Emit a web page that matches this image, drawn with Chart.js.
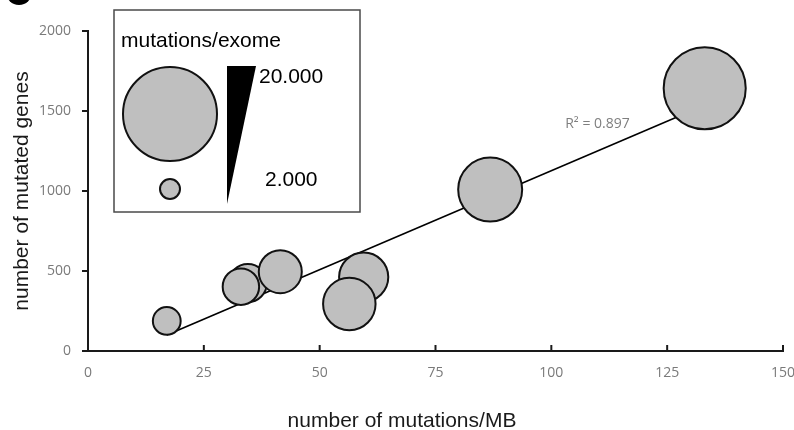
<!DOCTYPE html>
<html>
<head>
<meta charset="utf-8">
<script src="https://cdn.jsdelivr.net/npm/chart.js@4.4.0/dist/chart.umd.min.js"></script>
<style>
  html, body { margin: 0; padding: 0; background: #fff; }
  #wrap { position: relative; width: 794px; height: 430px; overflow: hidden; }
</style>
</head>
<body>
<div id="wrap"><canvas id="chart" width="794" height="430"></canvas></div>
<script>
// values
const mutationsPerMB    = [17.0, 34.5, 33.0, 41.5, 59.5, 56.4, 86.8, 133.1];
const mutatedGenes      = [188, 425, 402, 496, 462, 294, 1009, 1642];
const mutationsPerExome = [3900, 6400, 6000, 7600, 9100, 9900, 12700, 17100];

// trend line end points
const trendX = [17.0, 133.2];
const trendY = [100, 1537];
const rSquaredText = 'R\u00b2 = 0.897';

const xTickValues = [0, 25, 50, 75, 100, 125, 150];
const yTickValues = [0, 500, 1000, 1500, 2000];

const legendValues = [20000, 2000];
const legendLabels = ['20.000', '2.000'];

// bubble radius for a mutations/exome count (2.000 -> 10px, 20.000 -> 47px)
function bubbleRadius(v){
    return 10 + (v - 2000) * 37 / 18000;
}

const bubbles = mutationsPerMB.map(function(x, i){
    return {x: x, y: mutatedGenes[i], r: bubbleRadius(mutationsPerExome[i])};
});
const trend = trendX.map(function(x, i){ return {x: x, y: trendY[i]}; });

const fill = '#bfbfbf';
const axisColor = '#1a1a1a';
const tickFont = {family: '"Open Sans", sans-serif', size: 14};
const titleFont = '"Liberation Sans", Arial, sans-serif';

const extras = {
    id: 'extras',
    afterDraw(chart){
        const ctx = chart.ctx;
        const xs = chart.scales.x, ys = chart.scales.y;
        const bottom = chart.chartArea.bottom;
        ctx.save();

        // inward tick marks on the x axis
        ctx.strokeStyle = axisColor;
        ctx.lineWidth = 2;
        xTickValues.forEach(function(v){
            if(v === 0) return;
            const px = xs.getPixelForValue(v);
            ctx.beginPath();
            ctx.moveTo(px, bottom);
            ctx.lineTo(px, bottom - 6);
            ctx.stroke();
        });

        // R squared label
        ctx.fillStyle = '#7f7f7f';
        ctx.font = '14px "Open Sans", sans-serif';
        ctx.textAlign = 'left';
        ctx.textBaseline = 'alphabetic';
        ctx.fillText(rSquaredText, xs.getPixelForValue(103), ys.getPixelForValue(1394));

        // x axis title
        ctx.fillStyle = '#1a1a1a';
        ctx.font = '21px ' + titleFont;
        ctx.textAlign = 'center';
        ctx.fillText('number of mutations/MB', 402, 427);

        // panel mark in the corner
        ctx.fillStyle = '#000';
        ctx.beginPath();
        ctx.arc(19, -8, 13, 0, Math.PI * 2);
        ctx.fill();

        // size legend
        ctx.fillStyle = '#fff';
        ctx.fillRect(114, 10, 246, 202);
        ctx.strokeStyle = '#4a4a4a';
        ctx.lineWidth = 1.5;
        ctx.strokeRect(114, 10, 246, 202);

        ctx.fillStyle = '#000';
        ctx.font = '21px ' + titleFont;
        ctx.textAlign = 'left';
        ctx.fillText('mutations/exome', 121, 47);

        const circleY = [114, 189];
        legendValues.forEach(function(v, i){
            ctx.beginPath();
            ctx.arc(170, circleY[i], bubbleRadius(v), 0, Math.PI * 2);
            ctx.fillStyle = fill;
            ctx.fill();
            ctx.strokeStyle = '#111';
            ctx.lineWidth = 2;
            ctx.stroke();
        });

        ctx.fillStyle = '#000';
        ctx.beginPath();
        ctx.moveTo(227, 66);
        ctx.lineTo(256, 66);
        ctx.lineTo(227, 204);
        ctx.closePath();
        ctx.fill();

        ctx.fillText(legendLabels[0], 259, 83);
        ctx.fillText(legendLabels[1], 265, 186);

        ctx.restore();
    }
};

new Chart(document.getElementById('chart'), {
    type: 'bubble',
    data: {
        datasets: [{
            data: bubbles,
            backgroundColor: fill,
            borderColor: '#111',
            borderWidth: 2,
            hoverRadius: 0
        }, {
            type: 'line',
            data: trend,
            borderColor: '#000',
            borderWidth: 1.6,
            pointRadius: 0,
            fill: false,
            tension: 0
        }]
    },
    options: {
        responsive: false,
        animation: false,
        layout: {autoPadding: false, padding: {left: 0, right: 11, top: 31, bottom: 0}},
        plugins: {legend: {display: false}, tooltip: {enabled: false}},
        scales: {
            x: {
                type: 'linear',
                min: 0, max: 150,
                afterBuildTicks(s){ s.ticks = xTickValues.map(function(v){ return {value: v}; }); },
                afterFit(s){ s.height = 79; s.paddingLeft = 0; s.paddingRight = 0; },
                grid: {display: true, drawOnChartArea: false, drawTicks: false},
                border: {color: axisColor, width: 2},
                ticks: {color: '#7a7a7a', font: tickFont, padding: 14, maxRotation: 0,
                        callback: function(v){ return String(v); }}
            },
            y: {
                type: 'linear',
                min: 0, max: 2000,
                afterBuildTicks(s){ s.ticks = yTickValues.map(function(v){ return {value: v}; }); },
                afterFit(s){ s.width = 88; s.paddingTop = 0; s.paddingBottom = 0; },
                grid: {display: true, drawOnChartArea: false, drawTicks: true, tickLength: 6, color: axisColor, lineWidth: 2},
                border: {color: axisColor, width: 2},
                ticks: {color: '#7a7a7a', font: tickFont, padding: 11,
                        callback: function(v){ return String(v); }},
                title: {
                    display: true,
                    text: 'number of mutated genes',
                    color: '#1a1a1a',
                    font: {family: titleFont, size: 21},
                    padding: {top: 10, bottom: 0}
                }
            }
        }
    },
    plugins: [extras]
});
</script>
</body>
</html>
